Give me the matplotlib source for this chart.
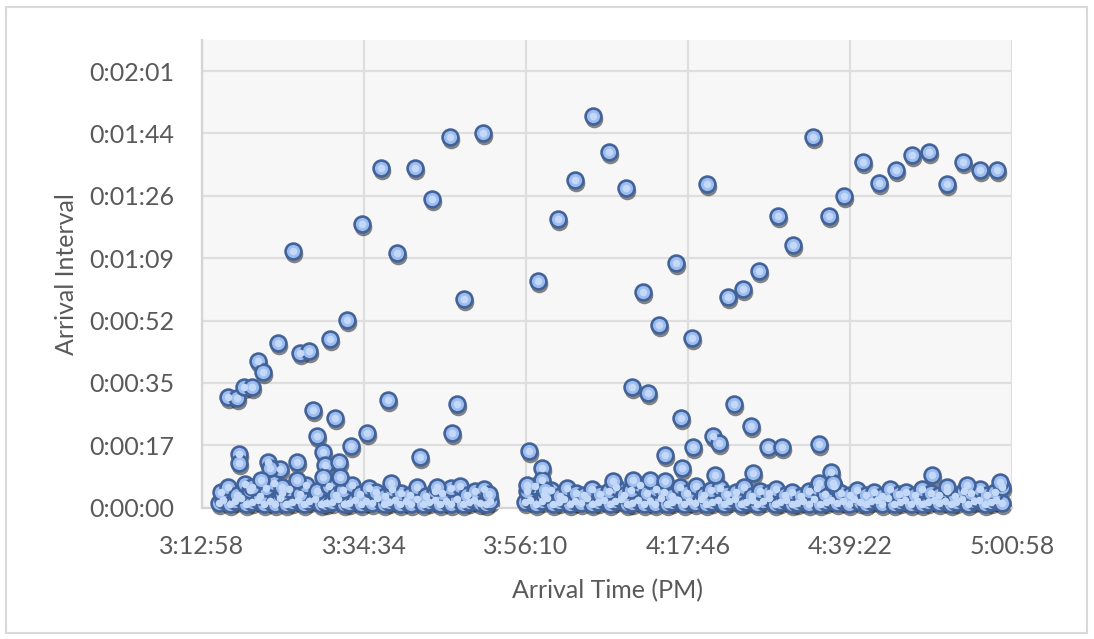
import matplotlib
matplotlib.use("Agg")
import matplotlib.pyplot as plt
import matplotlib.transforms as mtransforms
from matplotlib.ticker import FuncFormatter, FixedLocator
from matplotlib.patches import Rectangle

# ---- data: (arrival time in seconds after 3:00 PM, arrival interval in seconds) ----
upper_left = [(986,30.7),(1058,30.4),(1114,33.4),(1178,33.4),(1226,40.6),(1266,37.6),(1386,45.6),
              (1506,71.2),(1562,42.9),(1634,43.4),(1802,46.7),(1938,52.0),(2058,78.6),(2210,94.2),
              (2338,70.6),(2482,94.2),(2618,85.6),(2762,102.8),(2874,57.8),(3026,103.9)]
mid_left = [(1666,27.0),(1842,24.8),(2266,29.8),(2818,28.7),(2778,20.7),(2098,20.7),(1970,17.1),
            (1698,19.8),(1746,15.4),(1762,11.8),(1874,12.6),(2522,14.0),(1074,14.8),(1070,12.3),
            (1538,12.6),(1402,10.7),(1306,12.6),(1538,7.6),(1178,5.7),(1322,11.0),(1882,8.5),
            (1746,8.4),(2658,5.7),(1418,5.7),(1250,7.5),(2290,6.9)]
upper_right = [(3466,62.8),(3626,80.0),(3762,90.8),(3906,108.6),(4034,98.6),(4170,88.6),(4306,59.8),
               (4434,50.6),(4570,67.8),(4698,47.0),(4818,89.7),(4986,58.4),(5106,60.6),(5234,65.6),
               (5386,80.9),(5506,72.8),(5666,102.8),(5794,80.9),(5914,86.4),(6066,95.8),(6194,90.0),
               (6330,93.6),(6458,97.8),(6594,98.6),(6738,89.7),(6866,95.8),(7002,93.6),(7138,93.6)]
mid_right = [(4218,33.4),(4346,31.8),(4610,24.8),(5034,28.7),(5170,22.6),(5306,16.8),(5418,16.8),
             (5714,17.6),(3394,15.7),(4482,14.6),(4706,16.8),(4866,19.8),(4914,17.9),(3498,11.0),
             (4618,11.0),(4882,9.0),(5186,9.6),(5810,9.8),(5714,6.8),(6618,9.0),(7162,7.1),
             (3498,7.6),(4066,7.4),(4226,7.6),(4362,7.6),(4482,7.4),(5826,6.8),(6898,6.2),
             (6738,5.7),(3378,6.2),(3522,4.9)]
band_left = [(910,1.2),(948,2.1),(1001,1.0),(1040,1.8),(1092,2.5),(1131,1.1),(1180,1.5),(1222,2.2),
             (1270,1.0),(1318,1.9),(1360,1.1),(1405,2.6),(1452,1.0),(1497,1.4),(1545,2.0),(1590,1.1),
             (1636,1.7),(1681,2.4),(1727,1.0),(1770,1.2),(1818,1.6),(1862,2.3),(1910,1.0),(1952,1.3),
             (2000,2.1),(2046,1.1),(2090,1.8),(2138,1.2),(2181,2.5),(2230,1.0),(2272,1.5),(2318,2.0),
             (2365,1.1),(2410,1.9),(2452,1.1),(2500,2.4),(2546,1.0),(2590,1.4),(2638,2.2),(2680,1.0),
             (2728,1.7),(2771,1.0),(2818,2.3),(2862,1.1),(2910,1.6),(2955,2.0),(3000,1.2),(3046,1.0),
             (3080,1.9),
             (930,4.2),(985,5.8),(1060,3.5),(1118,6.4),(1160,4.8),(1240,3.2),(1290,5.5),(1350,6.8),
             (1420,4.0),(1470,5.2),(1560,3.8),(1610,6.1),(1700,4.6),(1790,5.9),(1850,3.4),(1905,4.9),
             (1980,6.3),(2040,3.7),(2110,5.4),(2170,4.4),(2240,3.1),(2300,5.0),(2370,4.1),(2440,3.6),
             (2500,5.6),(2570,3.3),(2640,4.7),(2700,3.9),(2770,5.3),(2840,6.0),(2900,3.5),(2960,4.5),
             (3030,5.1),(3070,3.8)]
band_right = [(3360,1.4),(3402,2.2),(3450,1.0),(3495,1.8),(3540,2.6),(3588,1.1),(3630,1.6),(3676,2.3),
              (3722,1.0),(3765,1.9),(3812,1.2),(3858,2.5),(3900,1.0),(3948,1.5),(3992,2.1),(4040,1.0),
              (4085,1.7),(4130,2.4),(4176,1.0),(4220,1.3),(4268,2.2),(4312,1.0),(4358,1.8),(4402,1.1),
              (4450,2.6),(4495,1.0),(4540,1.6),(4586,2.0),(4630,1.0),(4676,1.9),(4720,1.2),(4768,2.4),
              (4812,1.0),(4858,1.5),(4902,2.1),(4950,1.0),(4995,1.7),(5040,2.3),(5086,1.0),(5130,1.4),
              (5176,2.0),(5220,1.1),(5268,1.8),(5312,2.5),(5358,1.0),(5402,1.6),(5450,2.2),(5495,1.0),
              (5540,1.3),(5586,1.9),(5630,1.0),(5676,2.4),(5720,1.0),(5768,1.5),(5812,2.1),(5858,1.2),
              (5902,1.8),(5950,1.0),(5995,2.3),(6040,1.4),(6086,1.0),(6130,1.7),(6176,2.0),(6220,1.1),
              (6268,2.5),(6312,1.0),(6358,1.6),(6402,2.2),(6450,1.0),(6495,1.8),(6540,1.0),(6586,1.4),
              (6630,2.1),(6676,1.2),(6720,1.9),(6768,1.0),(6812,1.5),(6858,2.3),(6902,1.0),(6950,1.7),
              (6995,2.0),(7040,1.0),(7086,1.6),(7130,2.2),(7176,1.3),
              (3380,4.5),(3440,5.9),(3510,3.6),(3570,4.9),(3640,3.3),(3700,5.4),(3770,4.1),(3830,3.5),
              (3900,5.1),(3960,3.8),(4030,4.6),(4090,5.7),(4150,3.4),(4210,4.8),(4280,6.2),(4340,3.9),
              (4410,5.2),(4470,4.3),(4540,3.2),(4600,5.6),(4660,4.0),(4730,6.0),(4790,3.6),(4850,4.9),
              (4920,5.5),(4980,3.7),(5050,4.4),(5110,5.8),(5180,3.3),(5240,4.7),(5310,3.9),(5370,5.0),
              (5440,3.5),(5500,4.2),(5570,3.1),(5630,4.6),(5700,5.3),(5760,3.8),(5830,5.9),(5890,4.1),
              (5960,3.4),(6020,4.8),(6090,3.6),(6150,4.4),(6220,3.2),(6280,5.0),(6350,3.7),(6410,4.3),
              (6480,3.4),(6540,5.2),(6610,4.0),(6670,3.6),(6740,4.7),(6800,3.3),(6870,4.5),(6930,3.9),
              (7000,5.1),(7060,3.5),(7120,4.2),(7180,5.6)]

x_tick_labels = ['3:12:58', '3:34:34', '3:56:10', '4:17:46', '4:39:22', '5:00:58']
y_tick_labels = ['0:00:00', '0:00:17', '0:00:35', '0:00:52', '0:01:09', '0:01:26', '0:01:44', '0:02:01']
x_label = 'Arrival Time (PM)'
y_label = 'Arrival Interval'

# ---- assemble ----
points = band_left + band_right + mid_left + mid_right + upper_left + upper_right
arrival_time = [p[0] for p in points]
arrival_interval = [p[1] for p in points]

def hms_to_sec(s):
    h, m, sec = (int(v) for v in s.split(':'))
    return h * 3600 + m * 60 + sec

x_first = hms_to_sec(x_tick_labels[0]) - 3 * 3600
x_last = hms_to_sec(x_tick_labels[-1]) - 3 * 3600
x_step = (x_last - x_first) / (len(x_tick_labels) - 1)
x_ticks = [x_first + k * x_step for k in range(len(x_tick_labels))]
y_step = 0.0002 * 86400  # Excel major unit (days)
y_ticks = [k * y_step for k in range(len(y_tick_labels))]

plt.rcParams['font.family'] = ['Lato', 'DejaVu Sans']
fig = plt.figure(figsize=(10.94, 6.39), dpi=100)
fig.patch.set_facecolor('white')
ax = fig.add_axes([202/1094, 1-507.5/639, 810/1094, 467.5/639])
ax.set_facecolor('#f7f7f7')

ax.set_xlim(x_first, x_last)
ax.set_ylim(0, 0.0015 * 86400)

ax.xaxis.set_major_locator(FixedLocator(x_ticks))
ax.yaxis.set_major_locator(FixedLocator(y_ticks))
ax.xaxis.set_major_formatter(FuncFormatter(lambda v, pos: x_tick_labels[pos] if pos is not None and pos < len(x_tick_labels) else ''))
ax.yaxis.set_major_formatter(FuncFormatter(lambda v, pos: y_tick_labels[pos] if pos is not None and pos < len(y_tick_labels) else ''))

ax.grid(True, color='#dedede', linewidth=1.6, zorder=0)
ax.set_axisbelow(True)
for side in ['top', 'right']:
    ax.spines[side].set_visible(False)
for side in ['left', 'bottom']:
    ax.spines[side].set_color('#d4d4d4')
    ax.spines[side].set_linewidth(1.6)

ax.tick_params(axis='both', length=0, labelsize=18, labelcolor='#595959')
ax.tick_params(axis='y', pad=20)
ax.tick_params(axis='x', pad=20)

ax.set_xlabel(x_label, fontsize=18, color='#595959', labelpad=15)
ax.set_ylabel(y_label, fontsize=18, color='#595959', labelpad=8)

# shadow, marker, highlight
shadow = mtransforms.offset_copy(ax.transData, fig=fig, x=1.0, y=-3.0, units='dots')
ax.scatter(arrival_time, arrival_interval, s=160, color='#222222', alpha=0.55,
           linewidths=0, transform=shadow, clip_on=False, zorder=2)
ax.scatter(arrival_time, arrival_interval, s=130, facecolor='#9dbdf0', edgecolor='#42639a',
           linewidths=1.9, clip_on=False, zorder=3)
ax.scatter(arrival_time, arrival_interval, s=30, facecolor='#c4d9f8', linewidths=0,
           clip_on=False, zorder=4)

# chart border
fig.patches.append(Rectangle((6/1094, 1-633/639), 1081/1094, 626/639, transform=fig.transFigure,
                             fill=False, edgecolor='#d9d9d9', linewidth=1.5))

fig.savefig('out.png', dpi=100)
